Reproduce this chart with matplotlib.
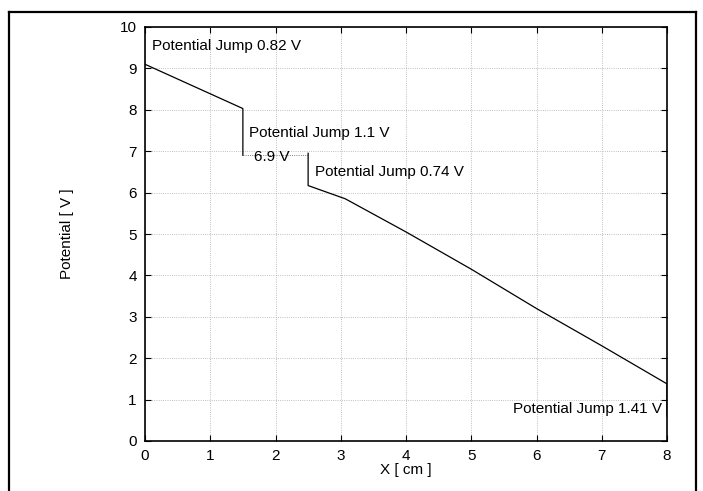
import matplotlib.pyplot as plt
from matplotlib.lines import Line2D

plt.rcParams['font.family'] = ['Liberation Sans', 'DejaVu Sans']

# Potential profile along the sample
x_cm = [0.0, 1.5, 1.5]
pot_a = [9.1, 8.03, 6.9]
x_mid = [1.5, 2.5]
pot_mid = [6.9, 6.9]
x_b = [2.5, 2.5, 3.07, 4.0, 5.0, 6.0, 7.0, 8.0, 8.0]
pot_b = [6.95, 6.17, 5.85, 5.05, 4.15, 3.2, 2.3, 1.38, 0.6]

x_ticks = [0, 1, 2, 3, 4, 5, 6, 7, 8]
y_ticks = [0, 1, 2, 3, 4, 5, 6, 7, 8, 9, 10]

labels = ['Potential Jump 0.82 V', 'Potential Jump 1.1 V', '6.9 V',
          'Potential Jump 0.74 V', 'Potential Jump 1.41 V']
label_x = [0.1, 1.6, 1.67, 2.6, 7.93]
label_y = [9.55, 7.45, 6.85, 6.5, 0.78]
label_ha = ['left', 'left', 'left', 'left', 'right']

fig = plt.figure(figsize=(7.03, 4.91), dpi=100)
ax = fig.add_axes([145 / 703, 1 - 441 / 491, 522 / 703, 414 / 491])

ax.plot(x_cm, pot_a, color='black', lw=0.9)
ax.plot(x_mid, pot_mid, color='#555555', lw=0.6, ls=':')
ax.plot(x_b, pot_b, color='black', lw=0.9)

for t, xx, yy, ha in zip(labels, label_x, label_y, label_ha):
    ax.text(xx, yy, t, ha=ha, va='center', fontsize=11)

ax.set_xlim(0, 8)
ax.set_ylim(0, 10)
ax.set_xticks(x_ticks)
ax.set_yticks(y_ticks)
ax.tick_params(direction='in', top=True, right=True, labelsize=11, length=4, pad=6)
ax.grid(True, ls=':', color='#aaaaaa', lw=0.6)
for s in ax.spines.values():
    s.set_linewidth(1.2)

ax.set_xlabel('X [ cm ]', fontsize=11, labelpad=0)
ax.set_ylabel('Potential [ V ]', fontsize=11, labelpad=33)

# outer frame around the scanned figure
fx0, fx1, fy1 = 9 / 703, 696 / 703, 1 - 12 / 491
for xs, ys in [([fx0, fx0], [0, fy1]), ([fx0, fx1], [fy1, fy1]), ([fx1, fx1], [fy1, 0])]:
    fig.add_artist(Line2D(xs, ys, transform=fig.transFigure, color='black', lw=1.6))

fig.savefig('out.png', dpi=100)
